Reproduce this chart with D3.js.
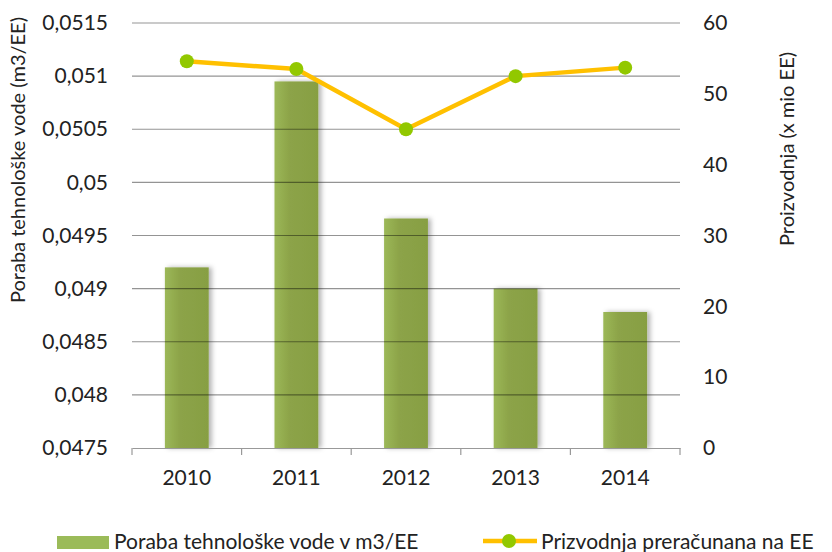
<!DOCTYPE html>
<html>
<head>
<meta charset="utf-8">
<script src="https://cdn.jsdelivr.net/npm/d3@7"></script>
<style>
  body { margin: 0; background: #fff; }
  text { font-family: Lato, "Open Sans", sans-serif; fill: #222; }
</style>
</head>
<body>
<svg id="chart" width="832" height="552"></svg>
<script>
// data
var years = ["2010", "2011", "2012", "2013", "2014"];
var poraba = [0.04920, 0.05095, 0.04966, 0.04900, 0.04878];
var proizvodnja = [54.6, 53.5, 45.0, 52.5, 53.7];
var leftTicks = [0.0475, 0.048, 0.0485, 0.049, 0.0495, 0.05, 0.0505, 0.051, 0.0515];
var rightTicks = [0, 10, 20, 30, 40, 50, 60];

var svg = d3.select("#chart");
var plotL = 132, plotR = 680, plotT = 23, plotB = 448;

var x = d3.scaleBand().domain(years).range([plotL, plotR]).paddingInner(0.6).paddingOuter(0.3);
var xb = d3.scaleBand().domain(years).range([plotL, plotR]);
var yL = d3.scaleLinear().domain([0.0475, 0.0515]).range([plotB, plotT]);
var yR = d3.scaleLinear().domain([0, 60]).range([plotB, plotT]);

var defs = svg.append("defs");
var grad = defs.append("linearGradient").attr("id", "barGrad")
  .attr("x1", "0%").attr("x2", "100%").attr("y1", "0%").attr("y2", "0%");
grad.append("stop").attr("offset", "0%").attr("stop-color", "#9cb858");
grad.append("stop").attr("offset", "35%").attr("stop-color", "#8ca348");
grad.append("stop").attr("offset", "100%").attr("stop-color", "#879f43");
var f = defs.append("filter").attr("id", "shadow").attr("x", "-20%").attr("width", "150%");
f.append("feDropShadow").attr("dx", 3).attr("dy", 0).attr("stdDeviation", 2.5)
  .attr("flood-color", "#000").attr("flood-opacity", 0.3);

// bars
svg.append("g").selectAll("rect").data(poraba).enter().append("rect")
  .attr("x", function(d, i) { return x(years[i]); })
  .attr("y", function(d) { return yL(d); })
  .attr("width", x.bandwidth())
  .attr("height", function(d) { return plotB - yL(d); })
  .attr("fill", "url(#barGrad)")
  .attr("filter", "url(#shadow)");

// grid lines (on top of the bars, semi-transparent)
svg.append("g").selectAll("line").data(leftTicks.slice(1)).enter().append("line")
  .attr("x1", plotL).attr("x2", plotR)
  .attr("y1", function(d) { return yL(d); })
  .attr("y2", function(d) { return yL(d); })
  .attr("stroke", "rgba(0,0,0,0.42)").attr("stroke-width", 1.2);

// x axis
var xAxis = svg.append("g").attr("transform", "translate(0," + plotB + ")")
  .call(d3.axisBottom(xb).tickSize(0).tickPadding(22));
xAxis.select(".domain").attr("stroke", "#999").attr("stroke-width", 1.2);
xAxis.selectAll("text").attr("font-size", "21px").attr("fill", "#222");
svg.append("g").selectAll("line").data(d3.range(years.length + 1)).enter().append("line")
  .attr("x1", function(i) { return plotL + i * xb.step(); })
  .attr("x2", function(i) { return plotL + i * xb.step(); })
  .attr("y1", plotB).attr("y2", plotB + 7)
  .attr("stroke", "#999").attr("stroke-width", 1.2);

// left axis
var fmt = function(d) { return String(+d.toFixed(4)).replace(".", ","); };
var yAxisL = svg.append("g").attr("transform", "translate(" + plotL + ",0)")
  .call(d3.axisLeft(yL).tickValues(leftTicks).tickFormat(fmt).tickSize(0).tickPadding(24));
yAxisL.select(".domain").remove();
yAxisL.selectAll("text").attr("font-size", "21px").attr("fill", "#222");

// right axis
var yAxisR = svg.append("g").attr("transform", "translate(" + plotR + ",0)")
  .call(d3.axisRight(yR).tickValues(rightTicks).tickSize(0).tickPadding(23));
yAxisR.select(".domain").remove();
yAxisR.selectAll("text").attr("font-size", "21px").attr("fill", "#222");

// line
var line = d3.line()
  .x(function(d, i) { return xb(years[i]) + xb.bandwidth() / 2; })
  .y(function(d) { return yR(d); });
svg.append("path").datum(proizvodnja)
  .attr("d", line).attr("fill", "none")
  .attr("stroke", "#ffc000").attr("stroke-width", 4.5);
svg.append("g").selectAll("circle").data(proizvodnja).enter().append("circle")
  .attr("cx", function(d, i) { return xb(years[i]) + xb.bandwidth() / 2; })
  .attr("cy", function(d) { return yR(d); })
  .attr("r", 7).attr("fill", "#92c800");

// axis titles
svg.append("text")
  .attr("transform", "translate(25,160) rotate(-90)")
  .attr("text-anchor", "middle").attr("font-size", "20px")
  .text("Poraba tehnološke vode (m3/EE)");
svg.append("text")
  .attr("transform", "translate(794,149) rotate(-90)")
  .attr("text-anchor", "middle").attr("font-size", "20px")
  .text("Proizvodnja (x mio EE)");

// legend
var lg = svg.append("g");
lg.append("rect").attr("x", 57).attr("y", 536).attr("width", 52).attr("height", 13).attr("fill", "#9bbb59");
lg.append("text").attr("x", 114).attr("y", 549).attr("font-size", "21px").text("Poraba tehnološke vode v m3/EE");
lg.append("line").attr("x1", 483).attr("x2", 537).attr("y1", 541).attr("y2", 541)
  .attr("stroke", "#ffc000").attr("stroke-width", 4.5);
lg.append("circle").attr("cx", 509).attr("cy", 541).attr("r", 7).attr("fill", "#92c800");
lg.append("text").attr("x", 541).attr("y", 549).attr("font-size", "21px").text("Prizvodnja preračunana na EE");
</script>
</body>
</html>
